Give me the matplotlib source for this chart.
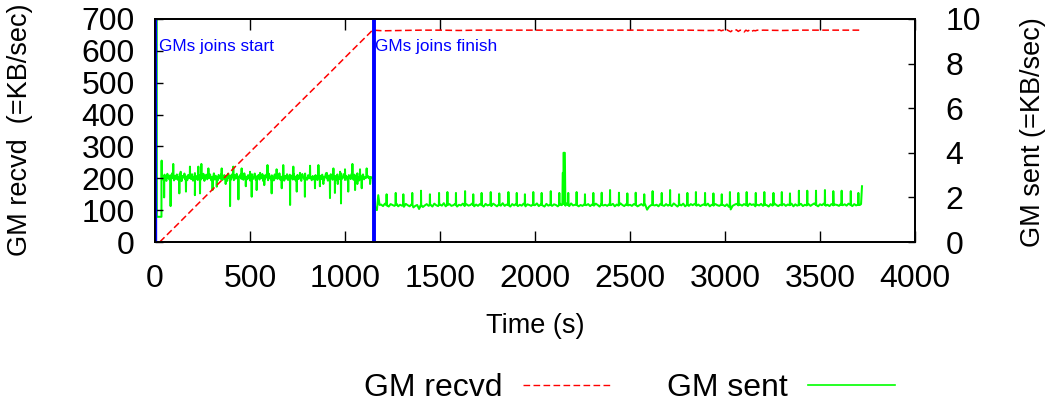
import numpy as np
import matplotlib
matplotlib.use('Agg')
import matplotlib.pyplot as plt
from matplotlib.lines import Line2D

plt.rcParams['font.family'] = ['Liberation Sans', 'DejaVu Sans']

# ---------------- data ----------------
# GM recvd (left axis, KB/sec)
recvd_t = [25, 125, 225, 325, 425, 525, 625, 725, 825, 925, 1025, 1125, 1145,
           1200, 1300, 1400, 1500, 1600, 1700, 1800, 1900, 2000, 2100, 2200,
           2300, 2400, 2500, 2600, 2700, 2800, 2900,
           2960, 2970, 2980, 2990, 3000, 3010, 3020, 3030, 3040, 3050, 3060,
           3070, 3080, 3090, 3100, 3110, 3120, 3130, 3140, 3150, 3160, 3170,
           3180, 3200, 3300, 3400, 3500, 3600, 3720]
recvd_v = [0, 59, 119, 178, 238, 297, 356, 416, 475, 534, 594, 653, 665,
           663, 664, 665, 665, 664, 665, 665, 665, 665, 665, 665,
           665, 665, 665, 665, 665, 665, 664,
           664, 666, 663, 665, 662, 666, 663, 660, 665, 663, 666,
           661, 665, 663, 659, 665, 662, 666, 661, 664, 663, 665,
           664, 665, 664, 665, 665, 665, 665]

# GM sent (right axis, KB/sec) -- start-up transient
sent_start_t = [9, 9.5, 34]
sent_start_v = [10.5, 1.13, 1.13]

# GM sent -- join phase, sampled every 5 s from t=40 to t=1140
pre_t0, pre_dt = 40, 5
sent_pre_v = [
    2.95, 2.78, 3.02, 2.86, 2.74, 3.06, 2.90, 2.81, 2.99, 2.84,
    3.08, 2.88, 2.76, 2.97, 2.83, 3.03, 2.79, 2.92, 3.05, 2.85,
    2.73, 2.96, 2.89, 3.07, 2.80, 2.94, 2.77, 3.01, 2.87, 2.98,
    2.82, 3.04, 2.75, 2.91, 3.09, 2.84, 2.96, 2.78, 3.00, 2.88,
    2.79, 2.99, 2.86, 3.06, 2.74, 2.93, 3.02, 2.81, 2.95, 2.87,
    3.03, 2.77, 2.92, 2.85, 3.08, 2.80, 2.97, 2.89, 2.76, 3.01,
    2.90, 2.83, 3.05, 2.78, 2.94, 3.00, 2.82, 2.96, 2.74, 3.07,
    2.86, 2.98, 2.80, 3.03, 2.91, 2.77, 2.99, 2.84, 3.06, 2.88,
    2.75, 2.95, 3.02, 2.83, 2.97, 2.79, 3.08, 2.87, 2.93, 2.81,
    3.00, 2.85, 2.76, 2.96, 3.04, 2.82, 2.90, 3.07, 2.78, 2.94,
    2.89, 3.01, 2.80, 2.95, 2.86, 3.05, 2.73, 2.98, 2.84, 3.02,
    2.92, 2.77, 3.06, 2.88, 2.81, 2.99, 2.94, 2.76, 3.03, 2.85,
    2.97, 2.83, 2.90, 3.08, 2.79, 2.93, 2.87, 3.00, 2.75, 2.96,
    2.84, 3.04, 2.78, 2.91, 3.02, 2.86, 2.98, 2.80, 3.06, 2.89,
    2.76, 2.95, 3.01, 2.82, 2.97, 2.88, 2.74, 3.05, 2.92, 2.83,
    3.07, 2.87, 2.79, 2.99, 2.85, 3.03, 2.90, 2.77, 2.96, 2.81,
    2.94, 3.00, 2.84, 2.78, 3.06, 2.89, 2.97, 2.82, 3.02, 2.86,
    2.80, 2.93, 3.08, 2.87, 2.75, 2.98, 2.83, 3.04, 2.91, 2.79,
    3.01, 2.85, 2.96, 2.77, 3.03, 2.88, 2.92, 2.81, 3.07, 2.84,
    2.90, 3.05, 2.78, 2.97, 2.86, 2.74, 3.00, 2.93, 2.82, 3.06,
    2.87, 2.79, 3.02, 2.95, 2.83, 3.08, 2.89, 2.76, 2.99, 2.85,
    2.96, 3.03, 2.81, 2.90, 2.88, 2.94, 2.97, 2.86, 2.92, 2.91, 2.90]
pre_level = 2.9
pre_spike_t = [35, 48, 82, 96, 128, 135, 163, 184, 210, 228, 237, 244, 281,
               303, 325, 351, 372, 395, 412, 439, 456, 478, 500, 509, 535,
               553, 575, 592, 614, 640, 667, 675, 711, 728, 746, 763, 789,
               816, 842, 860, 868, 886, 904, 921, 939, 947, 962, 974, 979,
               1000, 1017, 1039, 1053, 1065, 1079, 1088, 1114, 1132]
pre_spike_v = [3.65, 2.0, 1.61, 3.5, 2.18, 3.15, 2.26, 3.38, 2.10, 3.38, 2.18,
               3.5, 3.3, 2.33, 2.48, 3.3, 2.6, 1.61, 3.38, 1.91, 3.3, 2.5,
               3.15, 2.03, 2.33, 3.1, 2.55, 3.45, 2.18, 3.26, 2.41, 3.45,
               1.66, 3.38, 2.26, 3.1, 2.03, 3.42, 2.41, 3.45, 2.5, 2.6, 3.1,
               1.97, 3.3, 2.2, 2.6, 3.15, 1.73, 3.26, 2.26, 3.5, 2.33, 2.6,
               3.26, 2.41, 3.3, 2.6]

# transition at end of joins
sent_trans_t = [1145, 1150, 1160, 1168, 1175, 1182]
sent_trans_v = [2.9, 2.3, 1.45, 1.43, 2.1, 1.66]

# GM sent -- after joins, sampled every 10 s from t=1190 to t=3710
post_t0, post_dt = 1190, 10
sent_post_v = [
    1.68, 1.61, 1.72, 1.64, 1.59, 1.70, 1.66, 1.62, 1.73, 1.60,
    1.67, 1.63, 1.58, 1.71, 1.65, 1.60, 1.69, 1.55, 1.62, 1.66,
    1.48, 1.60, 1.57, 1.64, 1.70, 1.62, 1.67, 1.59, 1.72, 1.65,
    1.61, 1.68, 1.63, 1.74, 1.60, 1.66, 1.70, 1.62, 1.65, 1.71,
    1.59, 1.67, 1.64, 1.72, 1.61, 1.69, 1.63, 1.66, 1.73, 1.60,
    1.68, 1.62, 1.70, 1.65, 1.59, 1.71, 1.64, 1.67, 1.61, 1.72,
    1.66, 1.60, 1.69, 1.63, 1.74, 1.62, 1.68, 1.65, 1.59, 1.70,
    1.64, 1.71, 1.61, 1.67, 1.63, 1.72, 1.60, 1.69, 1.66, 1.62,
    1.70, 1.65, 1.73, 1.61, 1.68, 1.64, 1.59, 1.71, 1.63, 1.67,
    1.62, 1.69, 1.66, 1.60, 1.72, 1.65, 1.70, 1.63, 1.68, 1.61,
    1.73, 1.64, 1.67, 1.71, 1.60, 1.66, 1.62, 1.69, 1.65, 1.70,
    1.61, 1.68, 1.63, 1.72, 1.66, 1.59, 1.70, 1.64, 1.67, 1.62,
    1.69, 1.65, 1.71, 1.60, 1.68, 1.63, 1.73, 1.66, 1.61, 1.70,
    1.64, 1.67, 1.62, 1.70, 1.66, 1.60, 1.65, 1.70, 1.63, 1.68,
    1.45, 1.58, 1.65, 1.69, 1.64, 1.67, 1.60, 1.71, 1.65, 1.62,
    1.70, 1.63, 1.68, 1.61, 1.73, 1.66, 1.59, 1.69, 1.64, 1.72,
    1.60, 1.67, 1.62, 1.70, 1.65, 1.71, 1.63, 1.68, 1.61, 1.66,
    1.69, 1.64, 1.72, 1.60, 1.67, 1.63, 1.70, 1.65, 1.62, 1.68,
    1.66, 1.61, 1.69, 1.58, 1.46, 1.62, 1.67, 1.71, 1.64, 1.68,
    1.63, 1.70, 1.65, 1.61, 1.72, 1.66, 1.69, 1.60, 1.67, 1.64,
    1.71, 1.62, 1.68, 1.65, 1.59, 1.70, 1.63, 1.73, 1.66, 1.61,
    1.67, 1.64, 1.70, 1.62, 1.68, 1.65, 1.72, 1.60, 1.69, 1.63,
    1.65, 1.71, 1.61, 1.67, 1.64, 1.70, 1.62, 1.68, 1.73, 1.66,
    1.60, 1.69, 1.65, 1.72, 1.63, 1.67, 1.61, 1.70, 1.64, 1.68,
    1.66, 1.62, 1.71, 1.65, 1.69, 1.63, 1.72, 1.67, 1.61, 1.70,
    1.64, 1.68, 1.66]
post_level = 1.66
post_spike_t = [1219, 1267, 1307, 1354, 1400, 1447, 1495, 1539, 1584, 1632,
                1675, 1719, 1767, 1812, 1860, 1904, 1947, 1991, 2035, 2083,
                2128, 2175, 2219, 2263, 2307, 2351, 2395, 2442, 2486, 2530,
                2575, 2619, 2667, 2711, 2758, 2802, 2847, 2895, 2939, 2983,
                3026, 3070, 3114, 3162, 3207, 3255, 3299, 3342, 3389, 3433,
                3479, 3526, 3570, 3614, 3662, 3702]
post_spike_v = [2.14, 2.2, 2.14, 2.2, 2.3, 2.14, 2.2, 2.24, 2.2, 2.28,
                2.14, 2.2, 2.24, 2.18, 2.24, 2.2, 2.14, 2.24, 2.2, 2.28,
                2.2, 2.2, 2.24, 2.14, 2.2, 2.21, 2.33, 2.21, 2.18, 2.21,
                2.14, 2.28, 2.2, 2.33, 2.14, 2.2, 2.24, 2.2, 2.18, 2.14,
                2.24, 2.2, 2.24, 2.2, 2.24, 2.2, 2.24, 2.18, 2.3, 2.3,
                2.3, 2.33, 2.28, 2.3, 2.28, 2.2]
burst_t = [2144, 2146, 2149, 2150, 2157, 2160]
burst_v = [1.68, 3.1, 3.1, 4.0, 4.0, 1.75]
sent_end_t = [3716, 3721]
sent_end_v = [1.70, 2.5]

x_ticks = [0, 500, 1000, 1500, 2000, 2500, 3000, 3500, 4000]
y_ticks = [0, 100, 200, 300, 400, 500, 600, 700]
y2_ticks = [0, 2, 4, 6, 8, 10]
join_start, join_finish = 0, 1153

RED, GREEN, BLUE = '#ff0000', '#00ff00', '#0000ff'

# ---------------- assemble green series ----------------
pts = list(zip(sent_start_t, sent_start_v))
pts += [(pre_t0 + i * pre_dt, v) for i, v in enumerate(sent_pre_v)]
for t, v in zip(pre_spike_t, pre_spike_v):
    pts += [(t - 1.0, pre_level), (t, v), (t + 1.0, pre_level)]
pts += list(zip(sent_trans_t, sent_trans_v))
pts += [(post_t0 + i * post_dt, v) for i, v in enumerate(sent_post_v)]
for t, v in zip(post_spike_t, post_spike_v):
    pts += [(t - 1.0, post_level), (t, v), (t + 1.0, post_level)]
pts += list(zip(burst_t, burst_v))
pts += list(zip(sent_end_t, sent_end_v))
pts.sort(key=lambda p: p[0])
sent_t = [p[0] for p in pts]
sent_v = [p[1] for p in pts]

# ---------------- figure ----------------
W, H = 1048, 403
fig = plt.figure(figsize=(W / 100, H / 100), dpi=100)
ax = fig.add_axes([155 / W, 1 - 242 / H, 760 / W, 223 / H])
ax2 = ax.twinx()
ax.set_zorder(ax2.get_zorder() + 1)
ax.patch.set_visible(False)

ax2.plot(sent_t, sent_v, color=GREEN, lw=1.45)
ax.plot(recvd_t, recvd_v, color=RED, lw=1.1, linestyle=(0, (4.4, 2.2)))
ax.axvline(join_start, color=BLUE, lw=2.4)
ax.axvline(join_finish, color=BLUE, lw=2.8)
ax.text(20, 600, 'GMs joins start', color=BLUE, fontsize=12.4, va='baseline')
ax.text(1158, 600, 'GMs joins finish', color=BLUE, fontsize=12.4, va='baseline')

ax.set_xlim(0, 4000)
ax.set_ylim(0, 700)
ax2.set_ylim(0, 10)
ax.set_xticks(x_ticks)
ax.set_yticks(y_ticks)
ax2.set_yticks(y2_ticks)

ax.tick_params(axis='x', which='major', direction='in', length=8, width=1,
               top=True, bottom=True, labelsize=23, pad=15.5)
ax.tick_params(axis='y', which='major', direction='in', length=5.8, width=1,
               left=True, right=False, labelsize=23, pad=14.5)
ax2.tick_params(axis='y', which='major', direction='in', length=5.2, width=1,
                labelsize=23, pad=22)
for a in (ax, ax2):
    for s in a.spines.values():
        s.set_linewidth(1.3)

fig.text(20.5 / W, 1 - 130 / H, 'GM recvd  (=KB/sec)', rotation=90,
         ha='center', va='center', fontsize=19.5)
fig.text(1033 / W, 1 - 132 / H, 'GM sent (=KB/sec)', rotation=90,
         ha='center', va='center', fontsize=19.5)
fig.text(535 / W, 1 - 326 / H, 'Time (s)', ha='center', va='center', fontsize=19.5)

# legend (gnuplot style: label then sample)
ly = 1 - 385 / H
fig.text(502 / W, 1 - 396.5 / H, 'GM recvd', ha='right', va='baseline', fontsize=23)
fig.add_artist(Line2D([523 / W, 612 / W], [ly, ly], transform=fig.transFigure,
                      color=RED, lw=1.0, linestyle=(0, (4.8, 2.4))))
fig.text(788 / W, 1 - 396.5 / H, 'GM sent', ha='right', va='baseline', fontsize=23)
fig.add_artist(Line2D([808 / W, 895 / W], [ly, ly], transform=fig.transFigure,
                      color=GREEN, lw=1.2))

fig.savefig('out.png', dpi=100)
